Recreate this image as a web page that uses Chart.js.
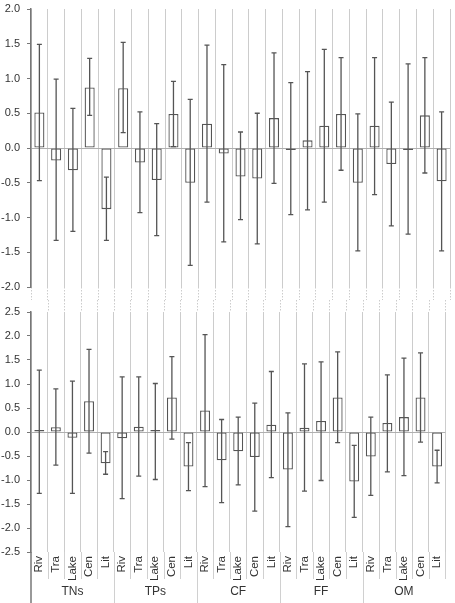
<!DOCTYPE html>
<html><head><meta charset="utf-8">
<script src="https://cdn.jsdelivr.net/npm/chart.js@4/dist/chart.umd.min.js"></script>
<style>html,body{margin:0;padding:0;background:#fff}canvas{display:block}</style>
</head><body>
<canvas id="topChart" width="455" height="300"></canvas>
<canvas id="botChart" width="455" height="303"></canvas>
<script>
const groups = ['TNs','TPs','CF','FF','OM'];
const categories = ['Riv','Tra','Lake','Cen','Lit'];

const topMeans = [0.51,-0.18,-0.32,0.87,-0.88, 0.86,-0.21,-0.46,0.49,-0.50, 0.35,-0.08,-0.41,-0.44,0.43, -0.01,0.11,0.32,0.49,-0.50, 0.32,-0.23,-0.01,0.47,-0.48];
const topUpper = [1.49,0.99,0.57,1.29,-0.42, 1.52,0.52,0.35,0.96,0.70, 1.48,1.20,0.23,0.50,1.37, 0.94,1.10,1.42,1.30,0.49, 1.30,0.66,1.21,1.30,0.52];
const topLower = [-0.47,-1.33,-1.20,0.47,-1.33, 0.22,-0.93,-1.26,0.02,-1.69, -0.78,-1.35,-1.03,-1.38,-0.51, -0.96,-0.89,-0.78,-0.32,-1.48, -0.67,-1.12,-1.24,-0.36,-1.48];

const botMeans = [0.02,0.10,-0.12,0.64,-0.65, -0.13,0.11,0.01,0.72,-0.72, 0.45,-0.59,-0.40,-0.52,0.15, -0.78,0.09,0.23,0.72,-1.03, -0.51,0.19,0.31,0.72,-0.72];
const botUpper = [1.29,0.90,1.06,1.72,-0.41, 1.15,1.15,1.01,1.57,-0.22, 2.03,0.26,0.31,0.60,1.26, 0.40,1.42,1.46,1.67,-0.28, 0.31,1.19,1.54,1.65,-0.38];
const botLower = [-1.28,-0.69,-1.28,-0.44,-0.88, -1.39,-0.92,-0.99,-0.15,-1.22, -1.14,-1.47,-1.10,-1.65,-0.95, -1.97,-1.23,-1.01,-0.22,-1.78, -1.32,-0.83,-0.91,-0.21,-1.06];

const topTickValues = [-2.0,-1.5,-1.0,-0.5,0.0,0.5,1.0,1.5,2.0];
const botTickValues = [-2.5,-2.0,-1.5,-1.0,-0.5,0.0,0.5,1.0,1.5,2.0,2.5];

const labels = [];
groups.forEach(g => categories.forEach(c => labels.push(c)));

const FONT = "'Liberation Sans', Arial, sans-serif";
Chart.defaults.font.family = FONT;

const extras = {
  id: 'extras',
  afterDatasetsDraw(chart, args, opts) {
    const ctx = chart.ctx;
    const y = chart.scales.y;
    const meta = chart.getDatasetMeta(0);
    ctx.save();
    ctx.strokeStyle = '#555';
    ctx.lineWidth = 1.3;
    meta.data.forEach((bar, i) => {
      const px = bar.x;
      const yh = y.getPixelForValue(opts.upper[i]);
      const yl = y.getPixelForValue(opts.lower[i]);
      ctx.beginPath();
      ctx.moveTo(px, yh); ctx.lineTo(px, yl);
      ctx.moveTo(px - 2.5, yh); ctx.lineTo(px + 2.5, yh);
      ctx.moveTo(px - 2.5, yl); ctx.lineTo(px + 2.5, yl);
      ctx.stroke();
    });
    ctx.restore();
  },
  afterDraw(chart, args, opts) {
    if (!opts.bottom) return;
    const ctx = chart.ctx;
    const x = chart.scales.x, y = chart.scales.y;
    const ca = chart.chartArea;
    const n = labels.length;
    const w = (ca.right - ca.left) / n;
    ctx.save();
    ctx.strokeStyle = '#cccccc';
    ctx.lineWidth = 1;
    ctx.setLineDash([1.5, 1.5]);
    for (let i = 1; i <= n; i++) {
      const bx = Math.round(x.getPixelForValue(i - 1) + w / 2) + 0.5;
      ctx.beginPath(); ctx.moveTo(bx, 0); ctx.lineTo(bx, ca.top); ctx.stroke();
    }
    ctx.setLineDash([]);
    for (let i = 1; i <= n; i++) {
      const bx = Math.round(x.getPixelForValue(i - 1) + w / 2) + 0.5;
      const isGroup = i % categories.length === 0 && i < n;
      ctx.strokeStyle = '#d0d0d0';
      ctx.beginPath(); ctx.moveTo(bx, ca.bottom); ctx.lineTo(bx, isGroup ? chart.height : ca.bottom + 27); ctx.stroke();
    }
    ctx.strokeStyle = '#777';
    ctx.lineWidth = 1.5;
    ctx.beginPath(); ctx.moveTo(y.right, ca.bottom); ctx.lineTo(y.right, chart.height); ctx.stroke();
    ctx.fillStyle = '#333';
    ctx.font = "12px " + FONT;
    ctx.textAlign = 'center';
    ctx.textBaseline = 'middle';
    groups.forEach((g, gi) => {
      const cx = x.getPixelForValue(gi * categories.length + 2);
      ctx.fillText(g, cx, ca.bottom + 40);
    });
    ctx.restore();
  }
};

function makeChart(id, means, upper, lower, yMin, yMax, tickValues, bottom) {
  return new Chart(document.getElementById(id), {
    type: 'bar',
    data: {
      labels: labels,
      datasets: [{
        data: means,
        backgroundColor: '#ffffff',
        borderColor: '#555',
        borderWidth: 1.3,
        borderSkipped: false,
        minBarLength: 2,
        barPercentage: 0.6,
        categoryPercentage: 1.0
      }]
    },
    options: {
      responsive: false,
      animation: false,
      events: [],
      layout: { padding: { top: 0, right: 5, left: 0, bottom: bottom ? 23 : 0 } },
      plugins: {
        legend: { display: false },
        tooltip: { enabled: false },
        extras: { upper: upper, lower: lower, bottom: bottom }
      },
      scales: {
        x: {
          grid: {
            offset: true,
            color: '#cccccc',
            lineWidth: 1,
            borderDash: [1.5, 1.5],
            tickBorderDash: [1.5, 1.5],
            tickColor: '#cccccc',
            drawTicks: !bottom,
            tickLength: 13
          },
          border: { display: false },
          ticks: {
            display: bottom,
            autoSkip: false,
            maxRotation: 90,
            minRotation: 90,
            padding: 4,
            color: '#333',
            font: { size: 11.5, family: FONT }
          },
          afterFit(s) { s.height = bottom ? 28 : 13; }
        },
        y: {
          min: yMin,
          max: yMax,
          afterBuildTicks(s) { s.ticks = tickValues.map(v => ({ value: v })); },
          ticks: {
            callback: v => Number(v).toFixed(1),
            color: '#333',
            padding: 7,
            font: { size: 11, family: FONT }
          },
          grid: {
            color: c => (c.tick && c.tick.value === 0) ? '#b0b0b0' : 'rgba(0,0,0,0)',
            tickColor: '#777',
            tickLength: 4,
            lineWidth: 1
          },
          border: { display: true, color: '#777', width: 1.5 },
          afterFit(s) {
            s.width = 31;
            s.paddingTop = bottom ? 12 : 9;
            s.paddingBottom = 0;
          }
        }
      }
    },
    plugins: [extras]
  });
}

makeChart('topChart', topMeans, topUpper, topLower, -2.0, 2.0, topTickValues, false);
makeChart('botChart', botMeans, botUpper, botLower, -2.5, 2.5, botTickValues, true);
</script>
</body></html>
